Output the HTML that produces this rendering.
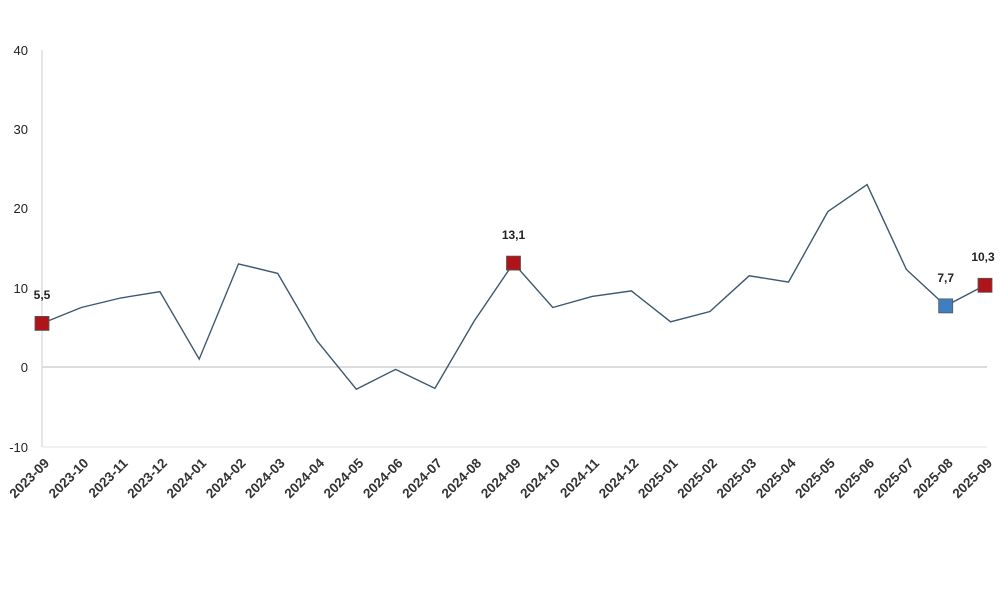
<!DOCTYPE html>
<html><head><meta charset="utf-8"><style>body{margin:0;background:#fff}</style></head><body>
<svg width="1000" height="593" xmlns="http://www.w3.org/2000/svg" font-family="Liberation Sans, sans-serif">
<rect width="1000" height="593" fill="#fff"/>
<line x1="42" y1="50" x2="42" y2="447" stroke="#d9d9d9" stroke-width="1.3"/>
<line x1="42" y1="367" x2="987" y2="367" stroke="#d0d0d0" stroke-width="1.5"/>
<line x1="42" y1="447" x2="987" y2="447" stroke="#e6e6e6" stroke-width="1"/>
<g font-size="13" fill="#222" text-anchor="end">
<text x="28" y="55">40</text><text x="28" y="134">30</text><text x="28" y="213">20</text><text x="28" y="293">10</text><text x="28" y="372">0</text><text x="28" y="452">-10</text>
</g>
<polyline fill="none" stroke="#3d5870" stroke-width="1.4" points="42,323.4 81.3,307.5 120.6,298 159.9,291.7 199.2,359.1 238.5,263.9 277.7,273.4 317,340.8 356.3,389.2 395.6,369.4 434.9,388.4 474.2,321 513.5,263.1 552.8,307.5 592.1,296.4 631.4,290.9 670.6,321.8 709.9,311.5 749.2,275.8 788.5,282.1 827.8,211.6 867.1,184.6 906.4,269.5 945.7,305.9 985,285.3"/>
<g font-size="13.5" font-weight="bold" fill="#333" text-anchor="end">
<text transform="translate(50,464) rotate(-45)">2023-09</text>
<text transform="translate(89.3,464) rotate(-45)">2023-10</text>
<text transform="translate(128.6,464) rotate(-45)">2023-11</text>
<text transform="translate(167.9,464) rotate(-45)">2023-12</text>
<text transform="translate(207.2,464) rotate(-45)">2024-01</text>
<text transform="translate(246.5,464) rotate(-45)">2024-02</text>
<text transform="translate(285.7,464) rotate(-45)">2024-03</text>
<text transform="translate(325,464) rotate(-45)">2024-04</text>
<text transform="translate(364.3,464) rotate(-45)">2024-05</text>
<text transform="translate(403.6,464) rotate(-45)">2024-06</text>
<text transform="translate(442.9,464) rotate(-45)">2024-07</text>
<text transform="translate(482.2,464) rotate(-45)">2024-08</text>
<text transform="translate(521.5,464) rotate(-45)">2024-09</text>
<text transform="translate(560.8,464) rotate(-45)">2024-10</text>
<text transform="translate(600.1,464) rotate(-45)">2024-11</text>
<text transform="translate(639.4,464) rotate(-45)">2024-12</text>
<text transform="translate(678.6,464) rotate(-45)">2025-01</text>
<text transform="translate(717.9,464) rotate(-45)">2025-02</text>
<text transform="translate(757.2,464) rotate(-45)">2025-03</text>
<text transform="translate(796.5,464) rotate(-45)">2025-04</text>
<text transform="translate(835.8,464) rotate(-45)">2025-05</text>
<text transform="translate(875.1,464) rotate(-45)">2025-06</text>
<text transform="translate(914.4,464) rotate(-45)">2025-07</text>
<text transform="translate(953.7,464) rotate(-45)">2025-08</text>
<text transform="translate(993,464) rotate(-45)">2025-09</text>
</g>
<g stroke="#555" stroke-width="0.8">
<rect x="35" y="316.4" width="14" height="14" fill="#b0141b"/>
<rect x="506.5" y="256.1" width="14" height="14" fill="#b0141b"/>
<rect x="938.7" y="298.9" width="14" height="14" fill="#3f7fc0"/>
<rect x="978" y="278.3" width="14" height="14" fill="#b0141b"/>
</g>
<g font-size="12" font-weight="bold" fill="#222" text-anchor="middle">
<text x="42" y="299">5,5</text>
<text x="513.5" y="239">13,1</text>
<text x="945.7" y="282">7,7</text>
<text x="983" y="261">10,3</text>
</g>
</svg>
</body></html>
